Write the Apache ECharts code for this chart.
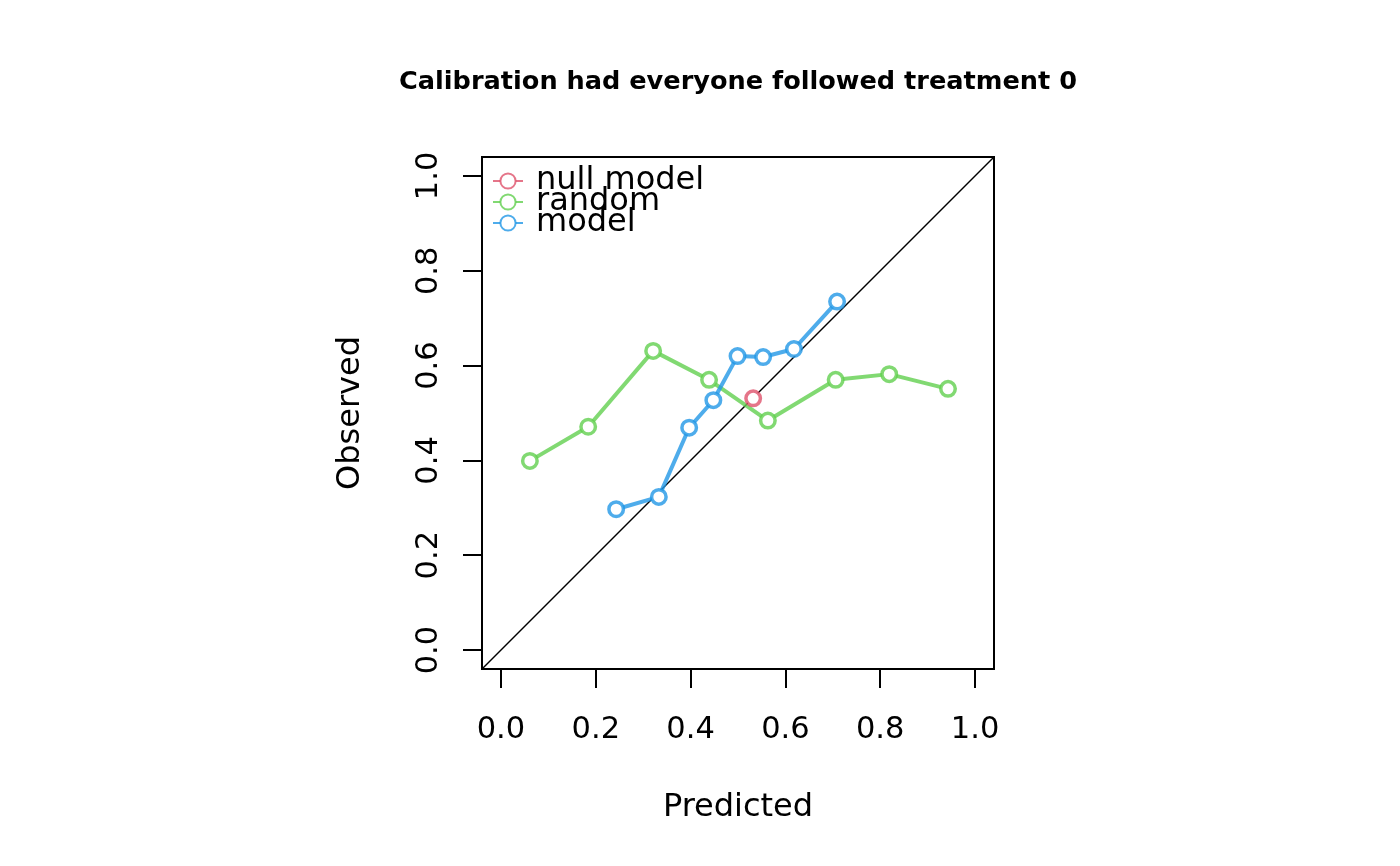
<!DOCTYPE html>
<html>
<head>
<meta charset="utf-8">
<script src="https://cdn.jsdelivr.net/npm/echarts@6/dist/echarts.min.js"></script>
<style>html,body{margin:0;padding:0;background:#fff}#c{width:1400px;height:866px}</style>
</head>
<body>
<div id="c"></div>
<script>
const titleText = 'Calibration had everyone followed treatment 0';
const tickValues = [0, 0.2, 0.4, 0.6, 0.8, 1.0];
const axisLimits = [-0.04, 1.04];
const nullX = [0.532];
const nullY = [0.531];
const randomX = [0.061, 0.184, 0.321, 0.439, 0.563, 0.706, 0.819, 0.943];
const randomY = [0.399, 0.471, 0.631, 0.570, 0.484, 0.570, 0.582, 0.551];
const modelX = [0.243, 0.333, 0.397, 0.448, 0.499, 0.553, 0.618, 0.709];
const modelY = [0.297, 0.323, 0.469, 0.527, 0.620, 0.618, 0.635, 0.735];
const seriesNames = ['null model', 'random', 'model'];
const colors = ['rgba(223,83,107,0.8)', 'rgba(97,208,79,0.8)', 'rgba(34,151,230,0.8)'];

const pairs = (xs, ys) => xs.map((x, i) => [x, ys[i]]);
const font = 'DejaVu Sans';

function mkSeries(name, data, color) {
  return {
    name, type: 'line', data,
    symbol: 'circle', symbolSize: 14.5,
    itemStyle: { color: '#fff', borderColor: color, borderWidth: 3.5 },
    lineStyle: { color: color, width: 4 },
    z: 3
  };
}

const chart = echarts.init(document.getElementById('c'), null, { renderer: 'canvas' });
chart.setOption({
  animation: false,
  backgroundColor: '#fff',
  title: {
    text: titleText, left: 733, top: 64, textAlign: 'center',
    textStyle: { fontFamily: font, fontSize: 25.6, fontWeight: 'bold', color: '#000' }
  },
  legend: {
    data: seriesNames, orient: 'vertical', left: 487, top: 160,
    itemWidth: 30, itemHeight: 19, itemGap: -11,
    lineStyle: { width: 2 },
    itemStyle: { borderWidth: 2 },
    textStyle: { fontFamily: font, fontSize: 32, color: '#000', padding: [0, 0, 0, 8] }
  },
  grid: {
    left: 482, top: 157, width: 512, height: 512,
    show: true, borderColor: '#000', borderWidth: 2, backgroundColor: 'transparent'
  },
  xAxis: {
    type: 'value', min: axisLimits[0], max: axisLimits[1],
    name: 'Predicted', nameLocation: 'middle', nameGap: 123,
    nameTextStyle: { fontFamily: font, fontSize: 32, color: '#000' },
    axisLine: { show: false, onZero: false },
    axisTick: { show: true, inside: false, length: 19, lineStyle: { color: '#000', width: 2 }, customValues: tickValues },
    axisLabel: { customValues: tickValues, formatter: v => v.toFixed(1), fontFamily: font, fontSize: 30.5, color: '#000', margin: 46 },
    splitLine: { show: false }
  },
  yAxis: {
    type: 'value', min: axisLimits[0], max: axisLimits[1],
    name: 'Observed', nameLocation: 'middle', nameGap: 115,
    nameTextStyle: { fontFamily: font, fontSize: 32, color: '#000' },
    axisLine: { show: false, onZero: false },
    axisTick: { show: true, inside: false, length: 19, lineStyle: { color: '#000', width: 2 }, customValues: tickValues },
    axisLabel: { customValues: tickValues, formatter: v => v.toFixed(1), fontFamily: font, fontSize: 30.5, color: '#000', rotate: 90, margin: 37 },
    splitLine: { show: false }
  },
  series: [
    {
      name: 'diagonal', type: 'line', data: [[axisLimits[0], axisLimits[0]], [axisLimits[1], axisLimits[1]]],
      symbol: 'none', lineStyle: { color: '#000', width: 1.5 }, silent: true, z: 2
    },
    mkSeries(seriesNames[0], pairs(nullX, nullY), colors[0]),
    mkSeries(seriesNames[1], pairs(randomX, randomY), colors[1]),
    mkSeries(seriesNames[2], pairs(modelX, modelY), colors[2])
  ]
});
</script>
</body>
</html>
